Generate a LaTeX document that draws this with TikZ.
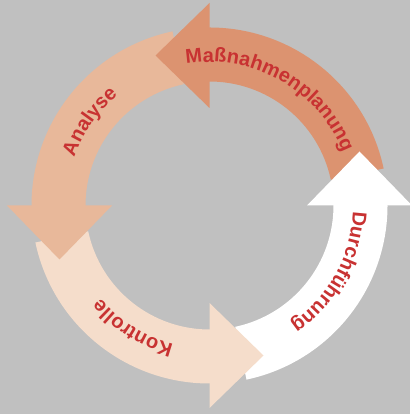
\documentclass[tikz,border=0pt]{standalone}
\usepackage{fontspec}
\newfontfamily\labfont{Liberation Sans}
\usetikzlibrary{calc,decorations.text}
\definecolor{bg}{RGB}{192,192,192}
\definecolor{cPlan}{RGB}{220,147,112}
\definecolor{cAna}{RGB}{232,184,154}
\definecolor{cKon}{RGB}{245,221,203}
\definecolor{cDur}{RGB}{255,255,255}
\definecolor{txtred}{RGB}{200,50,50}
\newcommand\labfmt{\labfont\bfseries\fontsize{20pt}{20pt}\selectfont\color{txtred}}
% shaft: tail angle, head-base angle, colour
\newcommand\ringshaft[3]{\fill[#3] ($(C)+(#1:178)$) arc[start angle=#1,end angle=#2+1,radius=178] -- ($(C)+(#2+1:124)$) arc[start angle=#2+1,end angle=#1,radius=124] -- cycle;}
% head: base angle, colour
\newcommand\ringhead[2]{\fill[#2] ($(C)+(#1:97.5)$) -- ($(C)+(#1:150)+(#1+90:54)$) -- ($(C)+(#1:202.5)$) -- cycle;}
% label: centre angle, text
\newcommand\ringlabel[2]{\path[decorate,decoration={text along path,text align=center,text={|\labfmt|#2}}] ($(C)+(#1+75:143.5)$) arc[start angle=#1+75,end angle=#1-75,radius=143.5];}
\begin{document}
\begin{tikzpicture}[x=1pt,y=1pt]
\fill[bg] (0,0) rectangle (410,414);
\useasboundingbox (0,0) rectangle (410,414);
\coordinate (C) at (209.5,208.5);
\ringshaft{12}{90}{cPlan}
\ringshaft{102}{180}{cAna}
\ringshaft{192}{270}{cKon}
\ringshaft{282}{360}{cDur}
\ringhead{90}{cPlan}
\ringhead{180}{cAna}
\ringhead{270}{cKon}
\ringhead{360}{cDur}
\ringlabel{60.5}{Maßnahmenplanung}
\ringlabel{145}{Analyse}
\ringlabel{-122}{Kontrolle}
\ringlabel{-29}{Durchführung}
\end{tikzpicture}
\end{document}
